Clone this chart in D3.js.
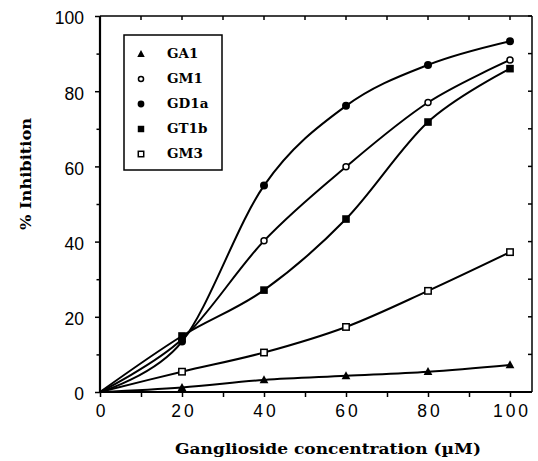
<!DOCTYPE html>
<html><head><meta charset="utf-8">
<script src="https://cdn.jsdelivr.net/npm/d3@7"></script>
<style>body{margin:0;background:#fff}svg{display:block}</style>
</head><body>
<svg id="c" width="538" height="461"></svg>
<script>
const concentrations = [0, 20, 40, 60, 80, 100];
const seriesNames = ["GA1", "GM1", "GD1a", "GT1b", "GM3"];
const GA1  = [0, 1.2, 3.2, 4.3, 5.4, 7.2];
const GM1  = [0, 14, 40.2, 59.9, 77, 88.3];
const GD1a = [0, 13.4, 54.9, 76.1, 87, 93.3];
const GT1b = [0, 14.9, 27.1, 46, 71.8, 86];
const GM3  = [0, 5.4, 10.5, 17.3, 26.9, 37.2];
const xTicks = [0, 20, 40, 60, 80, 100];
const yTicks = [0, 20, 40, 60, 80, 100];

const values = {GA1, GM1, GD1a, GT1b, GM3};
const marker = {GA1:"triangle", GM1:"openCircle", GD1a:"circle", GT1b:"square", GM3:"openSquare"};

const svg = d3.select("#c");
const L = 100, R = 532, T = 16, B = 392;
const x = d3.scaleLinear().domain([0, 100]).range([L, 510]);
const y = d3.scaleLinear().domain([0, 100]).range([B, T]);

// frame
svg.append("line").attr("x1", L).attr("x2", R).attr("y1", T).attr("y2", T).attr("stroke", "#000").attr("stroke-width", 1.5);
svg.append("line").attr("x1", R).attr("x2", R).attr("y1", T).attr("y2", B).attr("stroke", "#000").attr("stroke-width", 1.5);

// minor ticks
const minor = d3.range(0, 101, 10);
const tg = svg.append("g").attr("stroke", "#000").attr("stroke-width", 1.5);
minor.forEach(v => {
  tg.append("line").attr("x1", x(v)).attr("x2", x(v)).attr("y1", T).attr("y2", T + 4);
  tg.append("line").attr("x1", R).attr("x2", R - 4).attr("y1", y(v)).attr("y2", y(v));
});

// axes
const xAxis = svg.append("g").attr("transform", `translate(0,${B})`)
  .call(d3.axisBottom(x).tickValues(minor).tickSize(5).tickFormat(v => xTicks.includes(v) ? v : ""));
const yAxis = svg.append("g").attr("transform", `translate(${L},0)`)
  .call(d3.axisLeft(y).tickValues(minor).tickSize(5).tickFormat(v => yTicks.includes(v) ? v : ""));
[xAxis, yAxis].forEach(g => {
  g.select(".domain").attr("stroke-width", 2.2);
  g.selectAll(".tick line").attr("stroke-width", 1.5);
  g.selectAll("text").attr("font-family", "Liberation Sans, Arial, sans-serif").attr("font-size", 17.5).attr("fill", "#000");
});
yAxis.selectAll(".tick").filter(v => !yTicks.includes(v)).select("line").attr("x2", -3.5);
xAxis.selectAll("text").attr("letter-spacing", 3).attr("dy", "0.95em").attr("dx", 1.5);
yAxis.selectAll("text").attr("x", -16).attr("dy", "0.45em");
xAxis.select(".domain").attr("d", `M${L},0H${R}`);
yAxis.select(".domain").attr("d", `M0,${B}V${T}`);

// titles
svg.append("text").attr("x", 328).attr("y", 454).attr("text-anchor", "middle")
  .attr("font-family", "DejaVu Serif, serif").attr("font-weight", "bold").attr("font-size", 14)
  .attr("textLength", 306).attr("lengthAdjust", "spacingAndGlyphs")
  .text("Ganglioside concentration (µM)");
svg.append("text").attr("transform", "translate(31,174) rotate(-90)").attr("text-anchor", "middle")
  .attr("font-family", "DejaVu Serif, serif").attr("font-weight", "bold").attr("font-size", 15)
  .attr("textLength", 112).attr("lengthAdjust", "spacingAndGlyphs")
  .text("% Inhibition");

// curves
const line = d3.line().x((d, i) => x(concentrations[i])).y(d => y(d)).curve(d3.curveCatmullRom.alpha(0));
seriesNames.forEach(n => {
  svg.append("path").attr("d", line(values[n])).attr("fill", "none").attr("stroke", "#000").attr("stroke-width", 2);
});

function drawMarker(g, type, cx, cy, s) {
  if (type === "circle") g.append("circle").attr("cx", cx).attr("cy", cy).attr("r", 4 * s).attr("fill", "#000");
  else if (type === "openCircle") g.append("circle").attr("cx", cx).attr("cy", cy).attr("r", 3 * s).attr("fill", "#fff").attr("stroke", "#000").attr("stroke-width", 1.5);
  else if (type === "square") g.append("rect").attr("x", cx - 3.8 * s).attr("y", cy - 3.8 * s).attr("width", 7.6 * s).attr("height", 7.6 * s).attr("fill", "#000");
  else if (type === "openSquare") g.append("rect").attr("x", cx - 3.2 * s).attr("y", cy - 3.2 * s).attr("width", 6.4 * s).attr("height", 6.4 * s).attr("fill", "#fff").attr("stroke", "#000").attr("stroke-width", 1.5);
  else if (type === "triangle") g.append("path").attr("d", `M${cx},${cy - 4.6 * s}L${cx + 4.4 * s},${cy + 3.4 * s}L${cx - 4.4 * s},${cy + 3.4 * s}Z`).attr("fill", "#000");
}
const mg = svg.append("g");
seriesNames.forEach(n => {
  values[n].forEach((v, i) => { if (i > 0) drawMarker(mg, marker[n], x(concentrations[i]), y(v), 1); });
});

// legend
const lg = svg.append("g");
lg.append("rect").attr("x", 124).attr("y", 35).attr("width", 98).attr("height", 135).attr("fill", "#fff").attr("stroke", "#000").attr("stroke-width", 1.5);
const legendY = d3.scalePoint().domain(seriesNames).range([53, 153]);
seriesNames.forEach(n => {
  drawMarker(lg, marker[n], 141, legendY(n) + 1, 0.85);
  lg.append("text").attr("x", 167).attr("y", legendY(n)).attr("dy", "0.35em")
    .attr("font-family", "DejaVu Serif, serif").attr("font-weight", "bold").attr("font-size", 13.5)
    .text(n);
});
</script>
</body></html>
